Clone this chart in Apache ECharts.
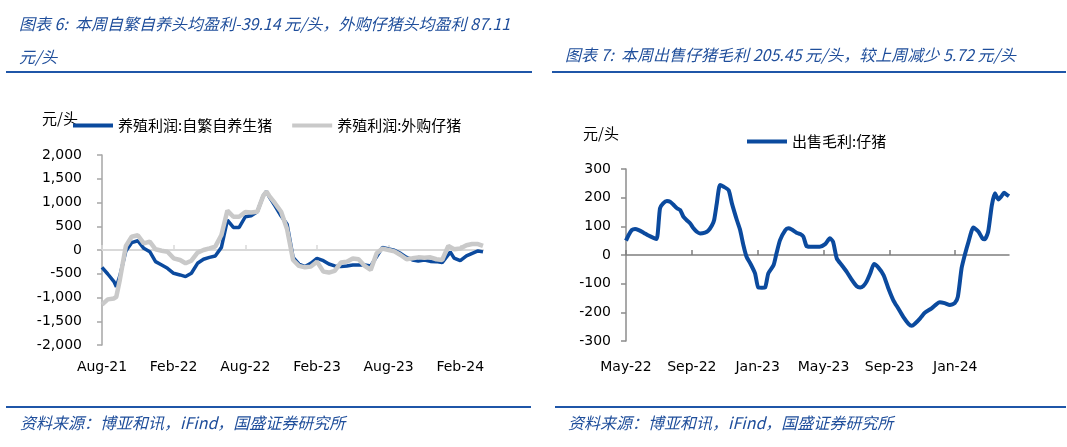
<!DOCTYPE html>
<html>
<head>
<meta charset="utf-8">
<script src="https://cdn.jsdelivr.net/npm/echarts@6/dist/echarts.min.js"></script>
<style>
html, body { margin: 0; padding: 0; background: #fff; }
#chart { width: 1067px; height: 447px; }
</style>
</head>
<body>
<div id="chart"></div>
<script>
// 图表6：养殖利润（元/头）
var leftDates = [
    '2021-08-01', '2021-08-16', '2021-09-01', '2021-09-07', '2021-09-16', '2021-10-01', '2021-10-16',
    '2021-11-01', '2021-11-16', '2021-12-01', '2021-12-16',
    '2022-01-01', '2022-01-16', '2022-02-01', '2022-02-16', '2022-03-01', '2022-03-16', '2022-04-01',
    '2022-04-16', '2022-05-01', '2022-05-16', '2022-06-01', '2022-06-16', '2022-07-01', '2022-07-16',
    '2022-08-01', '2022-08-16', '2022-09-01', '2022-09-16', '2022-09-24', '2022-10-01', '2022-10-16',
    '2022-11-01', '2022-11-16', '2022-12-01', '2022-12-16',
    '2023-01-01', '2023-01-16', '2023-02-01', '2023-02-16', '2023-03-01', '2023-03-16', '2023-04-01',
    '2023-04-16', '2023-05-01', '2023-05-16', '2023-06-01', '2023-06-16', '2023-07-01', '2023-07-16',
    '2023-08-01', '2023-08-16', '2023-09-01', '2023-09-16', '2023-10-01', '2023-10-16', '2023-11-01',
    '2023-11-16', '2023-12-01', '2023-12-16',
    '2024-01-01', '2024-01-06', '2024-01-16', '2024-02-01', '2024-02-16', '2024-03-01', '2024-03-16', '2024-03-29'
];
var selfBredProfit = [
    -365, -505, -665, -775, -540, -20, 155, 195, 35, -35, -245,
    -315, -385, -490, -525, -560, -490, -280, -195, -155, -125, 55, 630, 475, 475,
    700, 720, 805, 1140, 1230, 1120, 930, 715, 540, -155, -295,
    -350, -280, -175, -225, -295, -335, -350, -335, -315, -315, -315, -335, -140, 55,
    20, -5, -70, -155, -210, -230, -210, -240, -245, -265,
    -100, -40, -170, -225, -125, -70, -20, -39
];
var boughtPigletProfit = [
    -1150, -1040, -1020, -985, -620, 85, 280, 310, 140, 175, 15,
    -15, -35, -175, -210, -280, -225, -55, 0, 35, 70, 315, 830, 700, 700,
    800, 790, 805, 1140, 1230, 1140, 985, 805, 435, -210, -335,
    -365, -350, -245, -455, -475, -440, -265, -245, -180, -195, -335, -420, -70, 30,
    0, -30, -105, -195, -175, -155, -165, -155, -195, -210,
    85, 50, 15, 30, 100, 125, 125, 87
];
var leftXLabels = ['Aug-21', 'Feb-22', 'Aug-22', 'Feb-23', 'Aug-23', 'Feb-24'];

// 图表7：出售仔猪毛利（元/头）
var rightDates = [
    '2022-05-01', '2022-05-06', '2022-05-12', '2022-05-18', '2022-05-25', '2022-06-03', '2022-06-12',
    '2022-06-21', '2022-06-27', '2022-07-03', '2022-07-09', '2022-07-16', '2022-07-22', '2022-07-28',
    '2022-08-04', '2022-08-10', '2022-08-16', '2022-08-22', '2022-08-29', '2022-09-04', '2022-09-10',
    '2022-09-16', '2022-09-25', '2022-10-01', '2022-10-08', '2022-10-12', '2022-10-17', '2022-10-23',
    '2022-10-30', '2022-11-08', '2022-11-14', '2022-11-23', '2022-11-29', '2022-12-05', '2022-12-11',
    '2022-12-18', '2022-12-27',
    '2023-01-02', '2023-01-09', '2023-01-15', '2023-01-21', '2023-01-31', '2023-02-05', '2023-02-11',
    '2023-02-20', '2023-02-25', '2023-03-03', '2023-03-12', '2023-03-19', '2023-03-25', '2023-03-31',
    '2023-04-06', '2023-04-15', '2023-04-24', '2023-05-04', '2023-05-13', '2023-05-19', '2023-05-26',
    '2023-06-04', '2023-06-13', '2023-06-22', '2023-07-01', '2023-07-08', '2023-07-14', '2023-07-20',
    '2023-07-27', '2023-08-03', '2023-08-11', '2023-08-21', '2023-08-30', '2023-09-08', '2023-09-17',
    '2023-09-26', '2023-10-06', '2023-10-12', '2023-10-18', '2023-10-28', '2023-11-06', '2023-11-18',
    '2023-11-27', '2023-12-03', '2023-12-12', '2023-12-22', '2023-12-31',
    '2024-01-06', '2024-01-13', '2024-01-19', '2024-01-26', '2024-02-04', '2024-02-13', '2024-02-20',
    '2024-02-24', '2024-03-01', '2024-03-08', '2024-03-14', '2024-03-20', '2024-03-26', '2024-03-31',
    '2024-04-06', '2024-04-09'
];
var pigletMargin = [
    50, 70, 87, 91, 87, 78, 68,
    60, 56, 163, 180, 188, 186, 176,
    163, 157, 134, 122, 110, 93, 81,
    75, 78, 85, 104, 122, 180, 244,
    238, 226, 180, 122, 87, 35, -6,
    -29, -64,
    -113, -114, -113, -64, -35, 6, 52,
    87, 93, 89, 78, 73, 64, 31,
    29, 29, 29, 38, 58, 46, -12,
    -35, -58, -85, -108, -113, -108, -93,
    -64, -31, -43, -70, -116, -157, -186,
    -215, -240, -247, -240, -221, -201, -186,
    -171, -165, -168, -174, -168,
    -145, -46, 0, 46, 96, 81, 58,
    55, 81, 174, 215, 194, 205, 217,
    209, 205
];
var rightXLabels = ['May-22', 'Sep-22', 'Jan-23', 'May-23', 'Sep-23', 'Jan-24'];

// 日期 -> 距起始月的月数（小数）
function monthOffset(dateStr, startYear, startMonth) {
    var p = dateStr.split('-');
    var y = +p[0], m = +p[1], d = +p[2];
    var days = new Date(y, m, 0).getDate();
    return (y - startYear) * 12 + (m - startMonth) + (d - 1) / days;
}

function toPairs(dates, values, sy, sm) {
    return dates.map(function (d, i) { return [monthOffset(d, sy, sm), values[i]]; });
}

var leftBlue = toPairs(leftDates, selfBredProfit, 2021, 8);
var leftGray = toPairs(leftDates, boughtPigletProfit, 2021, 8);
var rightLine = toPairs(rightDates, pigletMargin, 2022, 5);
var leftMax = leftBlue[leftBlue.length - 1][0];
var rightMax = rightLine[rightLine.length - 1][0];
var leftTicks = leftXLabels.map(function (s, i) { return i * 6; });
var rightTicks = rightXLabels.map(function (s, i) { return i * 4; });

var blue = '#0B4A9E';
var gray = '#C9C9C9';
var titleBlue = '#1F4E9B';
var numFont = 'DejaVu Sans';
var cjkFont = 'Noto Sans CJK SC';

function labelAxis(grid, max, ticks, labels, step, margin) {
    return {
        type: 'value', gridIndex: grid, position: 'bottom', min: 0, max: max,
        axisLine: {show: false, onZero: false},
        axisTick: {show: false},
        splitLine: {show: false},
        axisLabel: {
            customValues: ticks, margin: margin, color: '#000',
            fontFamily: numFont, fontSize: 14,
            formatter: function (v) { return labels[Math.round(v / step)] || ''; }
        }
    };
}

function zeroAxis(grid, max, ticks, color, width) {
    return {
        type: 'value', gridIndex: grid, position: 'bottom', min: 0, max: max,
        axisLine: {show: true, onZero: true, lineStyle: {color: color, width: width}},
        axisTick: {show: true, inside: true, length: 5, customValues: ticks, lineStyle: {color: color, width: 1.5}},
        axisLabel: {show: false},
        splitLine: {show: false}
    };
}

function valueAxis(grid, min, max, interval, color, margin) {
    return {
        type: 'value', gridIndex: grid, min: min, max: max, interval: interval,
        axisLine: {show: true, onZero: false, lineStyle: {color: color, width: 1.5}},
        axisTick: {show: true, length: 5, lineStyle: {color: color, width: 1.5}},
        splitLine: {show: false},
        axisLabel: {
            margin: margin, color: '#000', fontFamily: numFont, fontSize: 14,
            formatter: function (v) { return v.toLocaleString('en-US'); }
        }
    };
}

function textEl(x, y, text, font, color) {
    return {type: 'text', x: x, y: y, style: {text: text, font: font, fill: color, verticalAlign: 'middle'}};
}

function barEl(x, y, w) {
    return {type: 'rect', shape: {x: x, y: y, width: w, height: 2}, style: {fill: '#1F56A8'}};
}

var titleFont = 'italic 16px "' + cjkFont + '"';
var unitFont = '15px "' + cjkFont + '"';
var legendText = {fontFamily: cjkFont, fontSize: 15, color: '#000'};

var chart = echarts.init(document.getElementById('chart'));
chart.setOption({
    animation: false,
    grid: [
        {left: 102, top: 155, width: 381, height: 190},
        {left: 626, top: 169, width: 383, height: 172}
    ],
    legend: [
        {
            data: ['养殖利润:自繁自养生猪', '养殖利润:外购仔猪'], left: 68, top: 113,
            icon: 'rect', itemWidth: 40, itemHeight: 4, itemGap: 20,
            selectedMode: false, textStyle: legendText
        },
        {
            data: ['出售毛利:仔猪'], left: 742, top: 129,
            icon: 'rect', itemWidth: 40, itemHeight: 4,
            selectedMode: false, textStyle: legendText
        }
    ],
    xAxis: [
        labelAxis(0, leftMax, leftTicks, leftXLabels, 6, 15),
        zeroAxis(0, leftMax, leftTicks, '#D9D9D9', 2),
        labelAxis(1, rightMax, rightTicks, rightXLabels, 4, 19),
        zeroAxis(1, rightMax, rightTicks, '#7F7F7F', 1.5)
    ],
    yAxis: [
        valueAxis(0, -2000, 2000, 500, '#A6A6A6', 20),
        valueAxis(1, -300, 300, 100, '#8C8C8C', 15)
    ],
    series: [
        {
            name: '养殖利润:自繁自养生猪', type: 'line', xAxisIndex: 0, yAxisIndex: 0,
            data: leftBlue, symbol: 'none', z: 3,
            lineStyle: {color: blue, width: 3.5}, itemStyle: {color: blue}
        },
        {
            name: '养殖利润:外购仔猪', type: 'line', xAxisIndex: 0, yAxisIndex: 0,
            data: leftGray, symbol: 'none', z: 4,
            lineStyle: {color: gray, width: 4.5}, itemStyle: {color: gray}
        },
        {
            name: '出售毛利:仔猪', type: 'line', xAxisIndex: 2, yAxisIndex: 1,
            data: rightLine, symbol: 'none', smooth: 0.2, z: 3,
            lineStyle: {color: blue, width: 4}, itemStyle: {color: blue}
        }
    ],
    graphic: [
        textEl(19, 24, '图表 6:  本周自繁自养头均盈利-39.14 元/头，外购仔猪头均盈利 87.11', titleFont, titleBlue),
        textEl(19, 57, '元/头', titleFont, titleBlue),
        barEl(6, 71, 526),
        textEl(565, 55, '图表 7:  本周出售仔猪毛利 205.45 元/头，较上周减少 5.72 元/头', titleFont, titleBlue),
        barEl(552, 71, 514),
        textEl(42, 118, '元/头', unitFont, '#000'),
        textEl(583, 133, '元/头', unitFont, '#000'),
        barEl(6, 406, 525),
        barEl(555, 406, 511),
        textEl(20, 423, '资料来源：博亚和讯，iFind，国盛证券研究所', titleFont, titleBlue),
        textEl(568, 423, '资料来源：博亚和讯，iFind，国盛证券研究所', titleFont, titleBlue)
    ]
});
</script>
</body>
</html>
